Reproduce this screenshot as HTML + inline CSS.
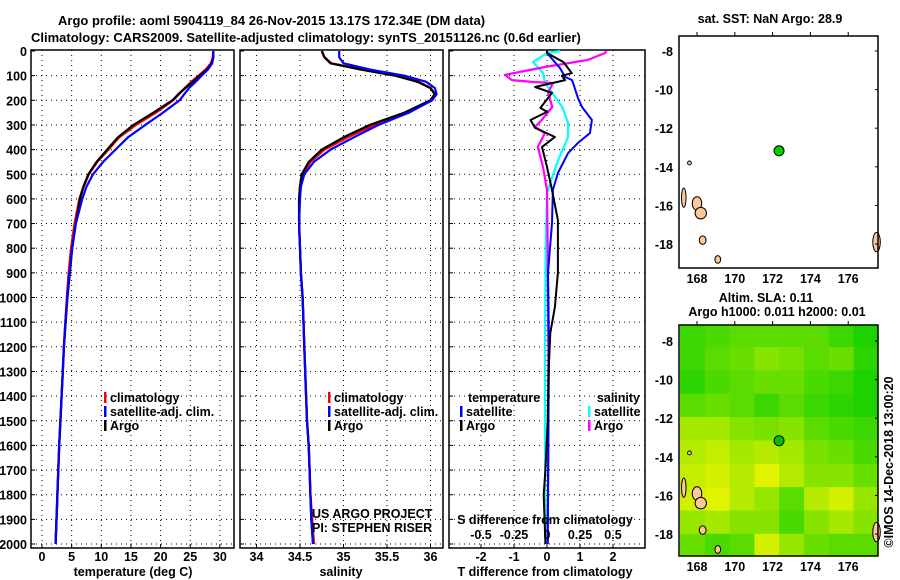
<!DOCTYPE html>
<html><head><meta charset="utf-8"><style>
body{margin:0;background:#fff}
svg{display:block;font-family:"Liberation Sans",sans-serif}
.t{font-weight:bold;font-size:13px}
.k{font-weight:bold;font-size:12.5px}
</style></head><body>
<svg id="c" width="900" height="580" viewBox="0 0 900 580">
<rect width="900" height="580" fill="#fff"/>
<text class="t" x="58" y="25">Argo profile: aoml 5904119_84 26-Nov-2015 13.17S 172.34E (DM data)</text>
<text class="t" x="31" y="42">Climatology: CARS2009. Satellite-adjusted climatology: synTS_20151126.nc (0.6d earlier)</text>
</svg>
<script>
// ---- data ----
const depths=[0,25,50,75,100,125,150,175,200,250,300,350,400,450,500,550,600,700,800,900,1000,1100,1200,1300,1400,1500,1600,1700,1800,1900,2000];
const tempArgo=[28.9,28.9,28.6,27.8,26.6,25.4,24.2,23,22,18.8,15.4,12.8,11,9.2,7.8,7,6.4,5.7,5.1,4.7,4.3,4.0,3.7,3.5,3.3,3.1,2.9,2.75,2.6,2.45,2.3];
const tempClim=[28.9,28.8,28.5,27.6,26.4,25.2,24.1,23.1,22.1,19.2,15.8,13.0,11.2,9.3,7.9,7.0,6.3,5.5,4.9,4.5,4.2,3.95,3.7,3.5,3.3,3.1,2.9,2.75,2.6,2.45,2.3];
const tempSat=[28.9,28.9,28.7,28,26.9,25.9,24.8,24,23.2,20.4,17.4,14.5,12.4,10.3,8.6,7.5,6.8,5.7,5.1,4.6,4.25,3.95,3.7,3.5,3.3,3.1,2.9,2.75,2.6,2.45,2.3];
const salArgo=[34.75,34.78,34.85,35.2,35.6,35.85,36.0,36.05,36.0,35.7,35.3,35.0,34.75,34.6,34.52,34.5,34.49,34.49,34.5,34.51,34.53,34.54,34.55,34.56,34.57,34.58,34.6,34.61,34.62,34.63,34.65];
const salClim=[34.75,34.78,34.86,35.2,35.6,35.86,36.0,36.05,36.0,35.75,35.35,35.05,34.78,34.62,34.53,34.5,34.49,34.49,34.5,34.51,34.53,34.54,34.55,34.56,34.57,34.58,34.6,34.61,34.62,34.64,34.66];
const salSat=[34.95,34.95,35.0,35.3,35.7,35.95,36.05,36.07,36.02,35.75,35.4,35.12,34.85,34.66,34.55,34.51,34.5,34.49,34.5,34.51,34.53,34.54,34.55,34.56,34.57,34.58,34.6,34.61,34.62,34.63,34.65];
const dTArgoDepth=[0,8,45,90,100,118,146,170,231,247,280,312,349,389,470,564,686,900,1038,1144,1300,1500,1700,1800,2000];
const dTArgo=[0,0,0.5,0.75,0.45,0.55,-0.36,0.15,-0.2,0,-0.5,-0.36,0.24,-0.15,0,0.15,0.33,0.33,0.24,0.1,0.05,0.02,-0.05,-0.1,-0.05];
const dTSatDepth=[0,8,69,105,118,191,227,280,333,373,414,495,564,698,900,1200,1600,2000];
const dTSat=[0,0,0.39,0.55,0.76,0.94,1.06,1.36,1.3,0.94,0.64,0.33,0.18,0.15,0.03,0.06,0.04,0.02];
const dSArgoDepth=[0,8,36,65,97,118,126,130,170,227,280,308,333,389,470,564,800,1200,1600,2000];
const dSArgo=[0.45,0.44,0.31,-0.015,-0.32,-0.265,-0.09,0.045,0.008,0.04,-0.04,-0.09,-0.015,-0.07,-0.03,0,0.005,0.01,0.01,0.005];
const dSSatDepth=[0,8,45,89,130,170,227,292,349,442,511,576,800,1200,1600,2000];
const dSSat=[0.1,0,-0.105,-0.03,-0.015,0.04,0.115,0.16,0.16,0.085,0.04,0,-0.01,-0.015,-0.015,-0.01];
const depthTicks=[0,100,200,300,400,500,600,700,800,900,1000,1100,1200,1300,1400,1500,1600,1700,1800,1900,2000];
const tempTicks=[0,5,10,15,20,25,30];
const salTicks=[34,34.5,35,35.5,36];
const salTickLabels=["34","34.5","35","35.5","36"];
const dTTicks=[-2,-1,0,1,2];
const dSTicks=[-0.5,-0.25,0,0.25,0.5];
const latTicks=[-8,-10,-12,-14,-16,-18];
const lonTicks=[168,170,172,174,176];
const floatLon=172.34, floatLat=-13.17;
const slaGrid=[
[0.2,0.25,0.3,0.3,0.3,0.3,0.2,0.1],
[0.2,0.3,0.35,0.45,0.4,0.3,0.35,0.15],
[0.15,0.25,0.3,0.35,0.35,0.25,0.2,0.1],
[0.3,0.35,0.3,0.2,0.3,0.2,0.15,0.1],
[0.55,0.55,0.45,0.4,0.45,0.3,0.25,0.2],
[0.6,0.65,0.55,0.6,0.55,0.4,0.35,0.25],
[0.65,0.7,0.6,0.75,0.6,0.45,0.45,0.35],
[0.7,0.75,0.6,0.5,0.3,0.6,0.7,0.5],
[0.5,0.55,0.45,0.45,0.25,0.45,0.55,0.45],
[0.35,0.25,0.3,0.7,0.5,0.35,0.3,0.3]];

// ---- helpers ----
const NS="http://www.w3.org/2000/svg";
const svg=document.getElementById('c');
function mk(tag,attrs,parent){const e=document.createElementNS(NS,tag);for(const k in attrs)e.setAttribute(k,attrs[k]);(parent||svg).appendChild(e);return e;}
function txt(s,x,y,cls,anchor,extra){const e=mk('text',Object.assign({x:x,y:y,class:cls||'k','text-anchor':anchor||'start'},extra||{}));e.textContent=s;return e;}
const Y=d=>51+d*0.2465;
const TOP=50,BOT=548;
const xT=t=>42+t*5.93;
const xS=s=>256.5+(s-34)*87;
const xdT=v=>547+v*33;
const xdS=v=>547+v*132;

function panel(x0,x1,name,vticks,vx){
  const g=mk('g',{});
  
  
  depthTicks.forEach(d=>{if(d>0){mk('line',{x1:x0,x2:x1,y1:Y(d),y2:Y(d),stroke:'#000','stroke-dasharray':'1,4'},g);}
    mk('line',{x1:x0,x2:x0+4,y1:Y(d),y2:Y(d),stroke:'#000'},g);});
  vticks.forEach(v=>{mk('line',{x1:vx(v),x2:vx(v),y1:TOP,y2:BOT,stroke:'#000','stroke-dasharray':'1,4'},g);
    mk('line',{x1:vx(v),x2:vx(v),y1:BOT,y2:BOT-4,stroke:'#000'},g);});
  mk('rect',{x:x0,y:TOP,width:x1-x0,height:BOT-TOP,fill:'none',stroke:'#000','stroke-width':1.5},g);
  return g;
}
function line(ds,vs,fx,color,name,w){
  const p=ds.map((d,i)=>fx(vs[i]).toFixed(1)+','+Y(d).toFixed(1)).join(' ');
  const e=mk('polyline',{points:p,fill:'none',stroke:color,'stroke-width':w||2.2,'stroke-linejoin':'round'});
  
  
}
function legend(x,y,items){
  items.forEach((it,i)=>{
    mk('rect',{x:x,y:y+i*14-10,width:2.5,height:11,fill:it[1]});
    const t=txt(it[0],x+6,y+i*14);
    
    
  });
}

depthTicks.forEach(d=>{const t=txt(String(d),27,Y(d)+5,'k','end');});

// panel 1
panel(31,234,'temperature-panel',tempTicks,xT);
line(depths,tempClim,xT,'#f00','temp-climatology-line',2.4);
line(depths,tempArgo,xT,'#000','temp-argo-line',2.2);
line(depths,tempSat,xT,'#00f','temp-satellite-line',2.2);
tempTicks.forEach(v=>{const t=txt(String(v),xT(v),561,'k','middle');});
{const t=txt('temperature (deg C)',133,576,'k','middle');}
legend(104,402,[['climatology','#f00','climatology'],['satellite-adj. clim.','#00f','satellite'],['Argo','#000','argo']]);

// panel 2
panel(240,443,'salinity-panel',salTicks,xS);
line(depths,salClim,xS,'#f00','sal-climatology-line',2.4);
line(depths,salArgo,xS,'#000','sal-argo-line',2.2);
line(depths,salSat,xS,'#00f','sal-satellite-line',2.2);
salTicks.forEach((v,i)=>{const t=txt(salTickLabels[i],xS(v),561,'k','middle');});
{const t=txt('salinity',341,576,'k','middle');}
legend(328,402,[['climatology','#f00','climatology'],['satellite-adj. clim.','#00f','satellite'],['Argo','#000','argo']]);
{const t=txt('US ARGO PROJECT',312,518,'','start',{'font-size':'12'});}
{const t=txt('PI: STEPHEN RISER',312,532,'','start',{'font-size':'12'});}

// panel 3
panel(449,645,'difference-panel',dTTicks,xdT);
line(dSSatDepth,dSSat,xdS,'#0ff','sal-satellite-diff-line',2.2);
line(dSArgoDepth,dSArgo,xdS,'#f0f','sal-argo-diff-line',2.2);
line(dTSatDepth,dTSat,xdT,'#00f','temp-satellite-diff-line',2);
line(dTArgoDepth,dTArgo,xdT,'#000','temp-argo-diff-line',2);
dTTicks.forEach(v=>{const t=txt(String(v),xdT(v),561,'k','middle');});
dSTicks.forEach(v=>{const t=txt(String(v),xdS(v),539,'k','middle');});
{const t=txt('T difference from climatology',545,576,'k','middle');}
{const t=txt('S difference from climatology',545,524,'k','middle');}
{const t=txt('temperature',468,402);}
{const t=txt('salinity',640,402,'k','end');}
legend(460,416,[['satellite','#00f','t-satellite'],['Argo','#000','t-argo']]);
legend(588,416,[['satellite','#0ff','s-satellite'],['Argo','#f0f','s-argo']]);

// maps
const MX0=679,MX1=878;
const lonX=l=>697+(l-168)*18.9;
function map(y0,y1,latY,name,heat){
  const g=mk('g',{});
  
  
  if(heat){
    const lon0=167.1,lon1=177.6,lat0=-7.1,lat1=-19.2;
    const nr=slaGrid.length,nc=slaGrid[0].length;
    slaGrid.forEach((row,r)=>row.forEach((v,c)=>{
      const xa=lonX(lon0+(lon1-lon0)*c/nc),xb=lonX(lon0+(lon1-lon0)*(c+1)/nc);
      const ya=latY(lat0+(lat1-lat0)*r/nr),yb=latY(lat0+(lat1-lat0)*(r+1)/nr);
      const e=mk('rect',{x:Math.max(MX0,xa),y:Math.max(y0,ya),width:Math.min(MX1,xb)-Math.max(MX0,xa)+0.5,height:Math.min(y1,yb)-Math.max(y0,ya)+0.5,
        fill:`rgb(${Math.round(v*300)},${Math.round(205+v*50)},0)`},g);
      
      
    }));
  }
  const isl=[[168.0,-15.9,0.25,0.35],[168.2,-16.4,0.3,0.3],[168.3,-17.8,0.18,0.22],[169.1,-18.8,0.15,0.2],[167.3,-15.6,0.12,0.5],[177.5,-17.9,0.2,0.5],[167.6,-13.8,0.1,0.1]];
  isl.forEach(p=>{const e=mk('ellipse',{cx:lonX(p[0]),cy:latY(p[1]),rx:p[2]*18.9,ry:p[3]*19.3,fill:'#ffc896',stroke:'#000','stroke-width':1},g);
    });
  mk('rect',{x:MX0,y:y0,width:MX1-MX0,height:y1-y0,fill:'none',stroke:'#000','stroke-width':1.5},g);
  latTicks.forEach(l=>{mk('line',{x1:MX1,x2:MX1-3,y1:latY(l),y2:latY(l),stroke:'#000'},g);
    const t=txt(String(l),673,latY(l)+5,'k','end');});
  lonTicks.forEach(l=>{mk('line',{x1:lonX(l),x2:lonX(l),y1:y0,y2:y0-4,stroke:'#000'},g);
    const t=txt(String(l),lonX(l),y1+15,'k','middle');});
  const dot=mk('circle',{cx:lonX(floatLon),cy:latY(floatLat),r:5,fill:heat?'#00c000':'#00d000',stroke:'#000','stroke-width':1},g);
  
  
}
map(36,268,l=>51+(-8-l)*19.3,'sst-map',false);
map(325,556,l=>341+(-8-l)*19.3,'sla-map',true);
{const t=txt('sat. SST: NaN Argo: 28.9',770,23,'k','middle');}
{const t=txt('Altim. SLA: 0.11',766,302,'k','middle');}
{const t=txt('Argo h1000: 0.011 h2000: 0.01',777,316,'k','middle');}
{const t=txt('©IMOS 14-Dec-2018 13:00:20',893,462,'','middle',{'font-size':'12',transform:'rotate(-90 893 462)'});}
</script>
</body></html>
